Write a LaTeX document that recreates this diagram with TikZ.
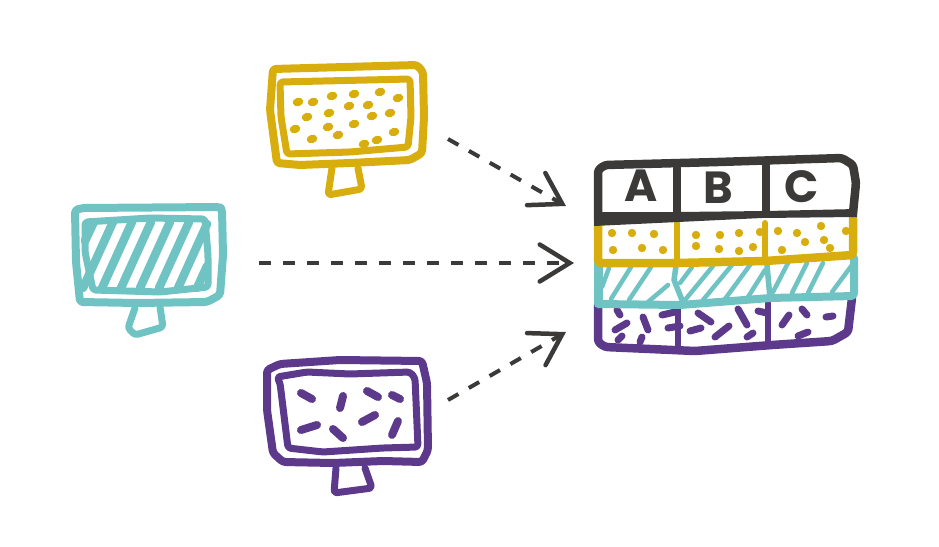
\documentclass[tikz,border=0pt]{standalone}
\usepackage{fontspec}
\setsansfont{Poppins}
\usetikzlibrary{arrows.meta}
\definecolor{gold}{HTML}{D8AE0E}
\definecolor{teal}{HTML}{70C3C3}
\definecolor{plum}{HTML}{5C398B}
\definecolor{ink}{HTML}{3B3A39}
\begin{document}
\begin{tikzpicture}[x=1pt,y=-1pt,line join=round,line cap=round,
  sketch/.style={rounded corners=3pt,line width=#1},
  sketch/.default=8pt,
  hatch/.style={line width=#1},
  hatch/.default=4.5pt,
  letter/.style={font=\sffamily\bfseries\fontsize{45}{45}\selectfont,text=ink,inner sep=0pt},
  flow/.style={ink,line width=4pt,line cap=butt,dash pattern=on 12pt off 12pt,
    -{Straight Barb[length=30pt,width=37pt,line width=4.5pt,line cap=round]}}]

  \useasboundingbox (0,0) rectangle (939,546);

  % gold screen
  \draw[gold,sketch] (273,69) -- (417,65) -- (423,72) -- (424,117) -- (422,153) -- (410,160) -- (350,163) -- (300,165) -- (277,163) -- (270,110) -- cycle;
  \draw[gold,sketch=7pt] (280,82) -- (410,79) -- (411,117) -- (408,147) -- (350,152) -- (287,154) -- (281,117) -- cycle;
  \draw[gold,sketch=7pt] (332,168) -- (328,195) -- (362,189) -- (358,168);
  \foreach \px/\py in {298/102,313/102,332/96,354/94,380/92,398/98,349/106,368/105,307/117,329/113,372/116,390/113,295/129,328/127,354/124,338/135,312/139,394/132,377/140,364/144}
    \fill[gold,rotate around={15:(\px,\py)}] (\px,\py) ellipse [x radius=5.4pt,y radius=4.2pt];

  % teal screen
  \draw[teal,sketch] (75,210) -- (83,208) -- (220,207) -- (222,210) -- (223,255) -- (220,295) -- (207,302) -- (137,303) -- (80,302) -- (76,262) -- cycle;
  \draw[teal,sketch=7pt] (85,222) -- (150,218) -- (205,219) -- (208,255) -- (208,287) -- (160,292) -- (93,290) -- (85,252) -- cycle;
  \draw[teal,sketch=7pt] (135,308) -- (128,328) -- (135,335) -- (163,327) -- (160,307);
  \foreach \ax/\ay/\bx/\by in {85/241/94/222,83/288/113/222,102/288/132/222,121/288/151/222,140/288/170/222,159/288/189/222,178/288/207/224,197/288/207/266}
    \draw[teal,hatch=8.5pt] (\ax,\ay) -- (\bx,\by);

  % plum screen
  \draw[plum,sketch] (267,370) -- (280,364) -- (340,360) -- (422,361) -- (427,383) -- (428,450) -- (422,462) -- (383,461) -- (333,463) -- (283,462) -- (273,453) -- (267,410) -- cycle;
  \draw[plum,sketch=7pt] (277,377) -- (307,372) -- (350,374) -- (410,372) -- (415,378) -- (418,447) -- (383,448) -- (323,452) -- (288,448) -- (280,383) -- cycle;
  \draw[plum,sketch=7pt] (336,468) -- (334,493) -- (372,488) -- (365,468);
  \foreach \ax/\ay/\bx/\by in {301/393/312/399,343/396/340/408,367/391/378/397,392/395/400/399,375/415/362/422,398/421/392/435,317/425/301/430,333/429/343/438}
    \draw[plum,hatch=8pt] (\ax,\ay) -- (\bx,\by);

  % table, from the bottom row up
  \draw[plum,sketch=8.5pt] (598,305) -- (598,342) -- (605,347) -- (695,351) -- (772,345) -- (832,341) -- (848,332) -- (852,298);
  \draw[plum,hatch=5.5pt] (678,308) -- (678,347);
  \draw[plum,hatch=5.5pt] (768,302) -- (768,343);
  \foreach \ax/\ay/\bx/\by in {617/310/620/315,615/330/627/323,643/317/648/330,662/315/675/312,668/328/680/326,618/340/622/336,640/342/642/337,698/313/711/322,690/331/701/328,715/337/729/326,738/309/747/325,747/337/753/333,758/311/767/313,782/325/789/315,802/309/807/315,826/317/833/316,798/336/808/332}
    \draw[plum,hatch=7pt] (\ax,\ay) -- (\bx,\by);

  \draw[teal,line width=9pt,line cap=butt] (598,262) -- (598,304);
  \draw[teal,sketch] (598,304) -- (680,305) -- (770,298) -- (854,296) -- (854,258);
  \draw[teal,hatch=5.5pt] (676,266) -- (674,280) -- (682,300);
  \draw[teal,hatch=5.5pt] (767,265) -- (770,298);
  \foreach \ax/\ay/\bx/\by in {602/287/609/268,611/299/631/267,629/300/651/267,648/302/668/285,680/283/692/267,685/300/713/266,703/300/732/265,725/299/750/265,748/297/765/270,773/292/788/263,792/293/807/263,808/293/823/263,832/292/852/265}
    \draw[teal,hatch] (\ax,\ay) -- (\bx,\by);

  \draw[gold,sketch=8.5pt] (598,222) -- (598,263) -- (677,263) -- (765,261) -- (853,255) -- (853,218);
  \draw[gold,hatch=6pt] (677,223) -- (677,262);
  \draw[gold,hatch=6pt] (765,223) -- (765,260);
  \foreach \px/\py in {612/233,632/233,654/234,613/250,642/248,663/250,696/235,720/235,739/233,760/232,696/246,719/249,739/251,753/247,778/231,797/233,821/226,846/231,805/242,824/240,830/248,782/250}
    \fill[gold] (\px,\py) circle [radius=4.2pt];

  \draw[ink,sketch=8.5pt] (598,220) -- (598,170) -- (605,165) -- (718,162) -- (842,158) -- (853,165) -- (856,183) -- (853,213);
  \fill[ink] (594,212) -- (677,212) -- (766,211) -- (857,209) -- (857,217) -- (762,218) -- (678,222) -- (594,226) -- cycle;
  \draw[ink,line width=7.5pt] (677,168) -- (677,213);
  \draw[ink,line width=7.5pt] (766,165) -- (766,212);
  \node[letter] (colA) at (641,186) {A};
  \node[letter] (colB) at (718,188) {B};
  \node[letter] (colC) at (802,187) {C};

  % arrows
  \coordinate (fromgold) at (448,139);
  \coordinate (togold) at (566,206);
  \coordinate (fromteal) at (259,263);
  \coordinate (toteal) at (574,263);
  \coordinate (fromplum) at (448,400);
  \coordinate (toplum) at (566,332);
  \draw[flow] (fromgold) -- (togold);
  \draw[flow] (fromteal) -- (toteal);
  \draw[flow] (fromplum) -- (toplum);
\end{tikzpicture}
\end{document}
